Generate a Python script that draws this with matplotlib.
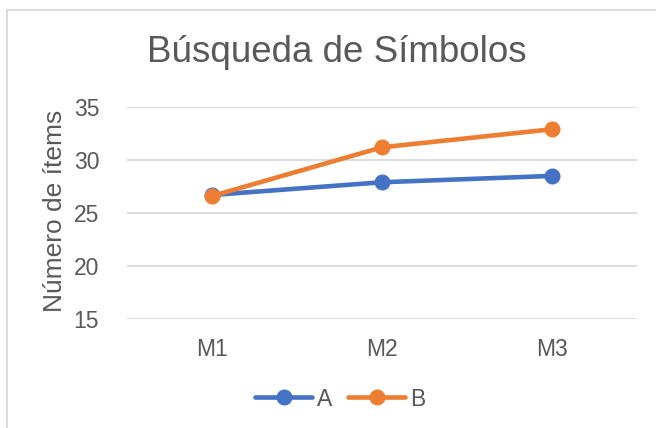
import matplotlib
matplotlib.use('Agg')
import matplotlib.pyplot as plt
from matplotlib.lines import Line2D

# data
categories = ['M1', 'M2', 'M3']
serie_a = [26.7, 27.9, 28.5]
serie_b = [26.6, 31.2, 32.9]
yticks = [15, 20, 25, 30, 35]

txt = '#595959'
plt.rcParams['font.family'] = ['Liberation Sans', 'DejaVu Sans']

W, H = 656, 428
fig = plt.figure(figsize=(W / 100, H / 100), dpi=100)

# plot area in pixel units -> fig fractions
left, right, top, bottom = 127, 637, 107, 319
ax = fig.add_axes([left / W, 1 - bottom / H, (right - left) / W, (bottom - top) / H])

x = range(len(categories))
ax.plot(x, serie_a, color='#4472C4', lw=3.3, marker='o', ms=10.5, label='A',
        solid_capstyle='round', zorder=3)
ax.plot(x, serie_b, color='#ED7D31', lw=3.3, marker='o', ms=10.5, label='B',
        solid_capstyle='round', zorder=4)

ax.set_xlim(-0.5, 2.5)
ax.set_ylim(15, 35)
ax.set_yticks(yticks)
ax.set_xticks(list(x))
ax.set_xticklabels(categories)
ax.tick_params(length=0, labelsize=16.5, labelcolor=txt)
ax.tick_params(axis='y', pad=20)
ax.tick_params(axis='x', pad=14)
for s in ax.spines.values():
    s.set_visible(False)
ax.grid(axis='y', color='#D9D9D9', lw=1.3)
ax.set_axisbelow(True)

ax.set_ylabel('Número de ítems', fontsize=19, color=txt)
ax.yaxis.set_label_coords(-0.118, 0.51)

fig.text(337 / W, 1 - 53 / H, 'Búsqueda de Símbolos', fontsize=26.5, color=txt,
         ha='center', va='center')

fig.legend(loc='center', bbox_to_anchor=(340 / W, 1 - 399 / H), ncol=2, frameon=False,
           fontsize=16.5, labelcolor=txt, handlelength=2.5, handletextpad=0.2,
           columnspacing=0.7)

# outer chart border (only left and top visible in the crop)
fig.add_artist(Line2D([7 / W, 7 / W], [0, 1 - 10 / H], transform=fig.transFigure,
                      color='#D9D9D9', lw=1.3))
fig.add_artist(Line2D([7 / W, 1], [1 - 10 / H, 1 - 10 / H], transform=fig.transFigure,
                      color='#D9D9D9', lw=1.3))

fig.savefig('out.png', dpi=100)
